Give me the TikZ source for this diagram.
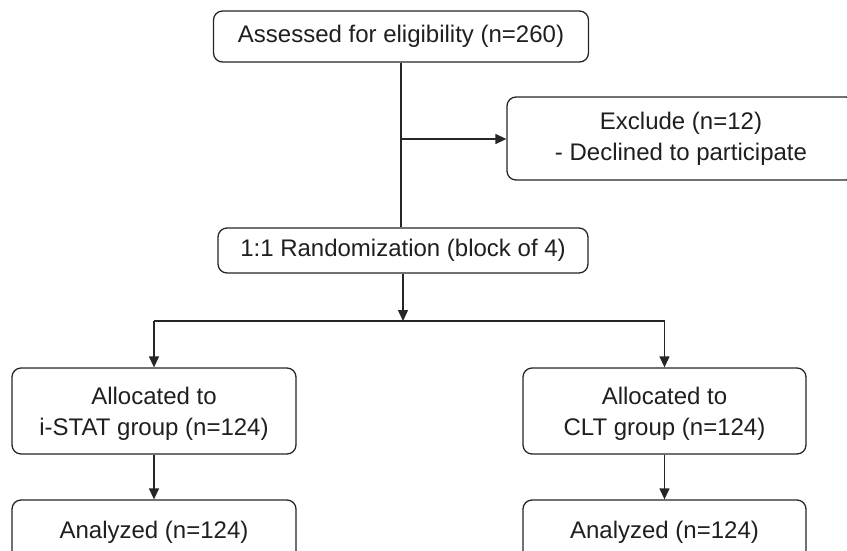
\documentclass[tikz,border=0pt]{standalone}
\usepackage{fontspec}
\setmainfont{Liberation Sans}
\usetikzlibrary{arrows.meta}
\begin{document}
\begin{tikzpicture}[x=1pt,y=1pt,
  txt/.style={text=black!88, font=\fontsize{24}{31}\selectfont, align=center},
  box/.style={txt, draw=black!85, line width=1.3pt, rounded corners=9pt, fill=white, inner sep=0pt},
  conn/.style={draw=black!85, line width=1.3pt},
  arr/.style={conn, -{Triangle[length=11pt,width=10pt]}}]
\useasboundingbox (0,0) rectangle (847,-550);
\begin{scope}
\clip (0,0) rectangle (847,-550);
\node[box, minimum width=375pt, minimum height=51pt] (A) at (401,-36.5) {Assessed for eligibility (n=260)};
\node[box, minimum width=348pt, minimum height=83pt] (E) at (681,-138.5) {Exclude (n=12)\\- Declined to participate};
\node[box, minimum width=370pt, minimum height=45pt] (R) at (403,-250.5) {1:1 Randomization (block of 4)};
\node[box, minimum width=284pt, minimum height=86pt] (L1) at (154,-411) {};
\node[box, minimum width=283pt, minimum height=86pt] (R1) at (664.5,-411) {};
\node[txt] (L1t) at (154,-414) {Allocated to\\i-STAT group (n=124)};
\node[txt] (R1t) at (664.5,-414) {Allocated to\\CLT group (n=124)};
\node[box, minimum width=284pt, minimum height=86pt] (L2) at (154,-543) {};
\node[box, minimum width=283pt, minimum height=86pt] (R2) at (664.5,-543) {};
\node[txt] (L2t) at (154,-532) {Analyzed (n=124)};
\node[txt] (R2t) at (664.5,-532) {Analyzed (n=124)};
\coordinate (J) at (403,-321);
\coordinate (B) at (401,-139);
\draw[conn] (A.south) -- (A.south |- R.north);
\draw[arr] (B) -- (E.west |- B);
\draw[arr] (R.south) -- (J);
\draw[conn] (L1.north |- J) -- (R1.north |- J);
\draw[arr] (L1.north |- J) -- (L1.north);
\draw[arr] (R1.north |- J) -- (R1.north);
\draw[arr] (L1.south) -- (L2.north);
\draw[arr] (R1.south) -- (R2.north);
\end{scope}
\end{tikzpicture}
\end{document}
